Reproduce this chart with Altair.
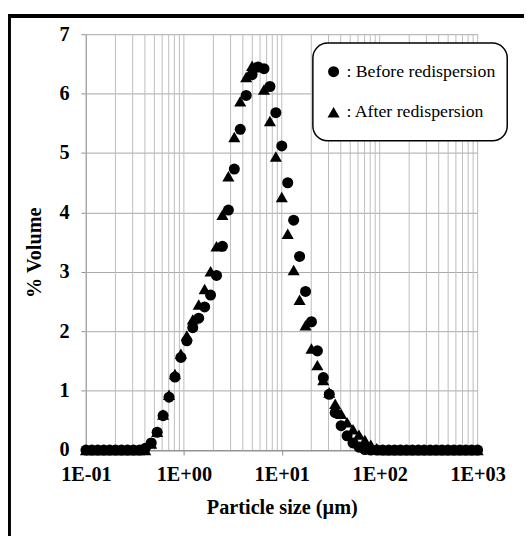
import altair as alt
import pandas as pd

# Particle size bins (µm)
sizes_um = [0.1, 0.115, 0.1322, 0.152, 0.1748, 0.2009, 0.231, 0.2656, 0.3054, 0.3511,
            0.4037, 0.4642, 0.5337, 0.6136, 0.7055, 0.8111, 0.9326, 1.072, 1.233, 1.418,
            1.63, 1.874, 2.154, 2.477, 2.848, 3.275, 3.765, 4.329, 4.977, 5.722,
            6.579, 7.565, 8.697, 10.0, 11.5, 13.22, 15.2, 17.48, 20.09, 23.1,
            26.56, 30.54, 35.11, 40.37, 46.42, 53.37, 61.36, 70.55, 81.11, 93.26,
            107.2, 123.3, 141.8, 163.0, 187.4, 215.4, 247.7, 284.8, 327.5, 376.5,
            432.9, 497.7, 572.2, 657.9, 756.5, 869.7, 1000.0]

# % Volume, before redispersion (circles)
before = [0, 0, 0, 0, 0, 0, 0, 0, 0, 0,
          0.03,
          0.12, 0.30, 0.58, 0.89, 1.23, 1.56, 1.84, 2.06, 2.22, 2.41,
          2.61, 2.94, 3.43, 4.04, 4.73, 5.40, 5.97, 6.32, 6.45, 6.42,
          6.12, 5.68, 5.12, 4.50, 3.87, 3.26, 2.67, 2.16, 1.67, 1.22,
          0.94, 0.63, 0.41, 0.24, 0.12, 0.05, 0.01,
          0, 0, 0, 0, 0, 0, 0, 0, 0, 0, 0, 0, 0, 0, 0, 0, 0, 0, 0]

# % Volume, after redispersion (triangles)
after = [0, 0, 0, 0, 0, 0, 0, 0, 0, 0, 0,
         0.11, 0.31, 0.60, 0.93, 1.28, 1.62, 1.93, 2.20, 2.45, 2.71,
         3.01, 3.43, 3.96, 4.61, 5.27, 5.87, 6.28, 6.47, 6.45, 6.07,
         5.54, 4.94, 4.26, 3.64, 3.03, 2.53, 2.10, 1.71, 1.43, 1.18,
         0.97, 0.78, 0.61, 0.47, 0.35, 0.26, 0.17, 0.09, 0.03,
         0, 0, 0, 0, 0, 0, 0, 0, 0, 0, 0, 0, 0, 0, 0, 0, 0]

series_names = [": Before redispersion", ": After redispersion"]
series_shapes = ["circle", "triangle-up"]
series_sizes = [125, 150]

x_ticks = [0.1, 1, 10, 100, 1000]
x_tick_labels = ["1E-01", "1E+00", "1E+01", "1E+02", "1E+03"]
y_ticks = [0, 1, 2, 3, 4, 5, 6, 7]

grid_multipliers = [1, 2, 3, 4, 5, 6, 7, 8, 9]
grid_decades = [0.1, 1, 10, 100]

FONT = "Liberation Serif"

# draw "after" first so circles sit on top
df = pd.DataFrame({
    "size": sizes_um + sizes_um,
    "volume": after + before,
    "series": [series_names[1]] * len(after) + [series_names[0]] * len(before),
})

grid_df = pd.DataFrame({"size": [m * d for d in grid_decades for m in grid_multipliers] + [1000]})

# label expression for decade ticks
expr = "'" + x_tick_labels[-1] + "'"
for v, lab in reversed(list(zip(x_ticks[:-1], x_tick_labels[:-1]))):
    expr = f"datum.value < {v * 3} ? '{lab}' : " + expr

x_scale = alt.Scale(type="log", domain=[0.1, 1000], nice=False)
y_scale = alt.Scale(domain=[0, 7], nice=False)

x_axis = alt.Axis(values=x_ticks, labelExpr=expr, grid=False,
                  title="Particle size (µm)", tickSize=5, labelPadding=10,
                  titlePadding=13, domainColor="#8c8c8c", tickColor="#8c8c8c",
                  labelFlush=False)

leg = alt.Legend(title=None, orient="none", legendX=230, legendY=9)

vgrid = alt.Chart(grid_df).mark_rule(color="#bdbdbd", strokeWidth=1).encode(
    x=alt.X("size:Q", scale=x_scale, axis=x_axis)
)

points = alt.Chart(df).mark_point(filled=True, opacity=1, color="black").encode(
    x=alt.X("size:Q", scale=x_scale, axis=x_axis),
    y=alt.Y("volume:Q", scale=y_scale,
            axis=alt.Axis(values=y_ticks, grid=True, gridColor="#a8a8a8",
                          title="% Volume", tickSize=5, labelPadding=12,
                          titlePadding=15, titleY=221,
                          domainColor="#8c8c8c", tickColor="#8c8c8c")),
    shape=alt.Shape("series:N", scale=alt.Scale(domain=series_names, range=series_shapes),
                    legend=leg),
    size=alt.Size("series:N", scale=alt.Scale(domain=series_names, range=series_sizes),
                  legend=leg),
)

frame = alt.Chart(alt.Data(values=[{}])).mark_rect(
    fillOpacity=0, stroke="black", strokeWidth=4
).encode(
    x=alt.value(-78), x2=alt.value(470), y=alt.value(-18.5), y2=alt.value(540)
)

chart = alt.layer(vgrid, points, frame).properties(
    width=397, height=421.5,
    padding={"left": 79, "top": 23, "right": 47, "bottom": 83},
    autosize=alt.AutoSizeParams(type="none"),
).configure_view(strokeWidth=0).configure_axis(
    labelFont=FONT, labelFontSize=20.5, labelFontWeight="bold", labelColor="black",
    titleFont=FONT, titleFontSize=20.5, titleFontWeight="bold", titleColor="black",
).configure_legend(
    labelFont=FONT, labelFontSize=18, labelColor="black", labelOffset=4,
    symbolFillColor="black", symbolStrokeWidth=0,
    strokeColor="black", strokeWidth=1.5, cornerRadius=15, fillColor="white",
    padding=12, clipHeight=34, rowPadding=7, labelLimit=300,
)

chart.save("out.html", embed_options={"renderer": "svg", "actions": False})
